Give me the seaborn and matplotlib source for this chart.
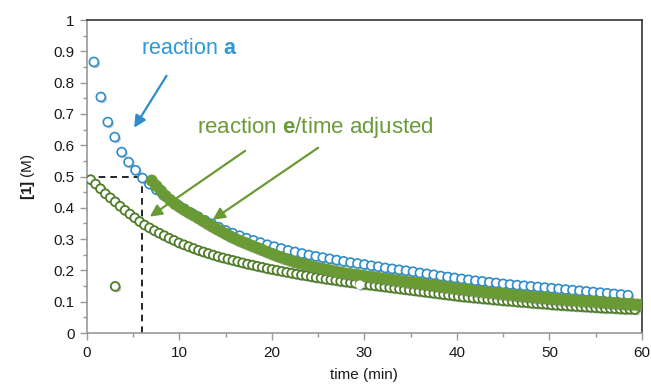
import numpy as np
import matplotlib
matplotlib.use("Agg")
import matplotlib.pyplot as plt
import matplotlib.patheffects as pe
from matplotlib.ticker import MultipleLocator
import seaborn as sns

# --- data ---
# reaction a, sampled every 0.75 min
a_step = 0.75
a_conc = [0.866, 0.754, 0.674, 0.626, 0.578, 0.546, 0.520, 0.495, 0.476, 0.458,
          0.441, 0.426, 0.411, 0.397, 0.384, 0.372, 0.360, 0.349, 0.338, 0.328,
          0.319, 0.311, 0.303, 0.296, 0.289, 0.282, 0.276, 0.270, 0.264, 0.259,
          0.254, 0.249, 0.245, 0.241, 0.237, 0.233, 0.229, 0.225, 0.222, 0.219,
          0.215, 0.212, 0.208, 0.205, 0.202, 0.199, 0.196, 0.192, 0.189, 0.186,
          0.182, 0.179, 0.176, 0.173, 0.170, 0.167, 0.165, 0.162, 0.160, 0.157,
          0.155, 0.153, 0.151, 0.149, 0.147, 0.145, 0.143, 0.141, 0.139, 0.137,
          0.135, 0.133, 0.131, 0.129, 0.127, 0.125, 0.123, 0.121]
a_time = a_step * np.arange(1, len(a_conc) + 1)

# reaction e, raw time
e_start, e_step = 0.4, 0.53
e_conc = [0.490, 0.476, 0.461, 0.445, 0.432, 0.419, 0.405, 0.392, 0.380, 0.368,
          0.356, 0.345, 0.336, 0.327, 0.319, 0.311, 0.303, 0.296, 0.288, 0.282,
          0.276, 0.270, 0.264, 0.259, 0.254, 0.249, 0.244, 0.240, 0.236, 0.232,
          0.228, 0.224, 0.220, 0.217, 0.213, 0.210, 0.206, 0.203, 0.200, 0.197,
          0.194, 0.191, 0.188, 0.185, 0.183, 0.180, 0.177, 0.175, 0.172, 0.170,
          0.168, 0.165, 0.163, 0.161, 0.159, 0.157, 0.155, 0.153, 0.151, 0.149,
          0.147, 0.145, 0.143, 0.141, 0.139, 0.137, 0.135, 0.133, 0.131, 0.129,
          0.127, 0.125, 0.123, 0.121, 0.119, 0.117, 0.115, 0.114, 0.112, 0.111,
          0.109, 0.108, 0.106, 0.105, 0.103, 0.102, 0.101, 0.099, 0.098, 0.097,
          0.095, 0.094, 0.093, 0.092, 0.090, 0.089, 0.088, 0.087, 0.086, 0.085,
          0.084, 0.083, 0.082, 0.081, 0.080, 0.079, 0.079, 0.078, 0.077, 0.076,
          0.076, 0.075]
e_time = e_start + e_step * np.arange(len(e_conc))
e_outlier_time = [3.05]
e_outlier_conc = [0.149]
# lone point drawn without an outline
blank_time = [29.5]
blank_conc = [0.154]

# reaction e, time adjusted
adj_start, adj_step = 7.0, 0.5
adj_conc = [0.487, 0.470, 0.454, 0.438, 0.425, 0.413, 0.403, 0.394, 0.385, 0.377,
            0.368, 0.359, 0.350, 0.341, 0.333, 0.325, 0.317, 0.309, 0.302, 0.295,
            0.289, 0.283, 0.277, 0.271, 0.265, 0.259, 0.253, 0.247, 0.242, 0.237,
            0.232, 0.227, 0.223, 0.219, 0.215, 0.211, 0.208, 0.205, 0.202, 0.199,
            0.196, 0.193, 0.190, 0.188, 0.186, 0.184, 0.182, 0.180, 0.178, 0.176,
            0.174, 0.172, 0.170, 0.168, 0.166, 0.164, 0.162, 0.160, 0.158, 0.156,
            0.154, 0.152, 0.150, 0.148, 0.146, 0.144, 0.142, 0.140, 0.138, 0.137,
            0.135, 0.133, 0.131, 0.130, 0.128, 0.126, 0.125, 0.123, 0.122, 0.120,
            0.119, 0.117, 0.116, 0.114, 0.113, 0.112, 0.110, 0.109, 0.108, 0.107,
            0.106, 0.105, 0.104, 0.103, 0.102, 0.101, 0.100, 0.099, 0.098, 0.097,
            0.096, 0.095, 0.094, 0.093, 0.092, 0.091, 0.090]
adj_time = adj_start + adj_step * np.arange(len(adj_conc))

# half-life guide
half_time = 6.0
half_conc = 0.5

y_ticks = [0.0, 0.1, 0.2, 0.3, 0.4, 0.5, 0.6, 0.7, 0.8, 0.9, 1.0]
y_ticklabels = ["0", "0.1", "0.2", "0.3", "0.4", "0.5", "0.6", "0.7", "0.8", "0.9", "1"]
x_ticks = [0, 10, 20, 30, 40, 50, 60]

# --- colours ---
blue = "#2E8CCB"
green_dark = "#4E7D28"
green = "#6A9A34"
blue_text = "#2F96D8"
green_text = "#6B9B37"

sns.set_style("white")
plt.rcParams["font.family"] = ["Liberation Sans", "DejaVu Sans"]
plt.rcParams["mathtext.fontset"] = "custom"
plt.rcParams["mathtext.rm"] = "Liberation Sans"
plt.rcParams["mathtext.bf"] = "Liberation Sans:bold"

fig = plt.figure(figsize=(6.51, 3.85), dpi=100)
ax = fig.add_axes([0.1336, 0.135, 0.8524, 0.813])

shadow = [pe.SimplePatchShadow(offset=(1.2, -1.2), alpha=0.35, shadow_rgbFace="#555555"), pe.Normal()]

sns.scatterplot(x=e_time, y=e_conc, ax=ax, s=40, facecolor="white",
                edgecolor=green_dark, linewidth=1.3, zorder=3)
sns.scatterplot(x=e_outlier_time, y=e_outlier_conc, ax=ax, s=40, facecolor="white",
                edgecolor=green_dark, linewidth=1.3, zorder=3)
sns.scatterplot(x=a_time, y=a_conc, ax=ax, s=42, facecolor="white",
                edgecolor=blue, linewidth=1.2, zorder=4)
sns.scatterplot(x=adj_time, y=adj_conc, ax=ax, s=66, color=green,
                edgecolor=green, linewidth=0.5, zorder=5)
sns.scatterplot(x=blank_time, y=blank_conc, ax=ax, s=40, color="white",
                edgecolor="white", linewidth=0, zorder=6)
for coll in ax.collections:
    coll.set_path_effects(shadow)

# dashed guide at t1/2
ax.plot([0, half_time], [half_conc, half_conc], ls=(0, (4, 3)), color="black", lw=1.2, zorder=2)
ax.plot([half_time, half_time], [0, half_conc], ls=(0, (4, 3)), color="black", lw=1.2, zorder=2)

# annotations
ax.text(5.8, 0.908, r"reaction $\mathbf{a}$", color=blue_text, fontsize=15.5, va="center")
ax.text(11.9, 0.656, r"reaction $\mathbf{e}$/time adjusted", color=green_text,
        fontsize=16, va="center")
arrow_kw = dict(arrowstyle="-|>,head_length=0.7,head_width=0.35", lw=1.6, shrinkA=0, shrinkB=0)
ax.annotate("", xy=(5.1, 0.656), xytext=(8.6, 0.822),
            arrowprops=dict(color=blue, **arrow_kw))
ax.annotate("", xy=(6.8, 0.372), xytext=(17.1, 0.582),
            arrowprops=dict(color=green, **arrow_kw))
ax.annotate("", xy=(13.6, 0.362), xytext=(25.0, 0.592),
            arrowprops=dict(color=green, **arrow_kw))

# axes
ax.set_xlim(0, 60)
ax.set_ylim(0, 1)
ax.set_xticks(x_ticks)
ax.xaxis.set_minor_locator(MultipleLocator(5))
ax.set_yticks(y_ticks, y_ticklabels)
ax.yaxis.set_minor_locator(MultipleLocator(0.05))
ax.tick_params(which="major", direction="out", length=5, width=1, color="#999999",
               labelsize=11, labelcolor="#1a1a1a", left=True, bottom=True, pad=4)
ax.tick_params(which="minor", direction="out", length=3, width=1, color="#999999",
               left=True, bottom=True)
for side in ["top", "right"]:
    ax.spines[side].set_color("#333333")
    ax.spines[side].set_linewidth(1.2)
for side in ["left", "bottom"]:
    ax.spines[side].set_color("#999999")
    ax.spines[side].set_linewidth(1.2)

ax.set_xlabel("time (min)", fontsize=11, color="#1a1a1a", labelpad=6)
ax.set_ylabel(r"$\mathbf{[1]}$ (M)", fontsize=11, color="#1a1a1a", labelpad=12)

fig.savefig("out.png", dpi=100)
